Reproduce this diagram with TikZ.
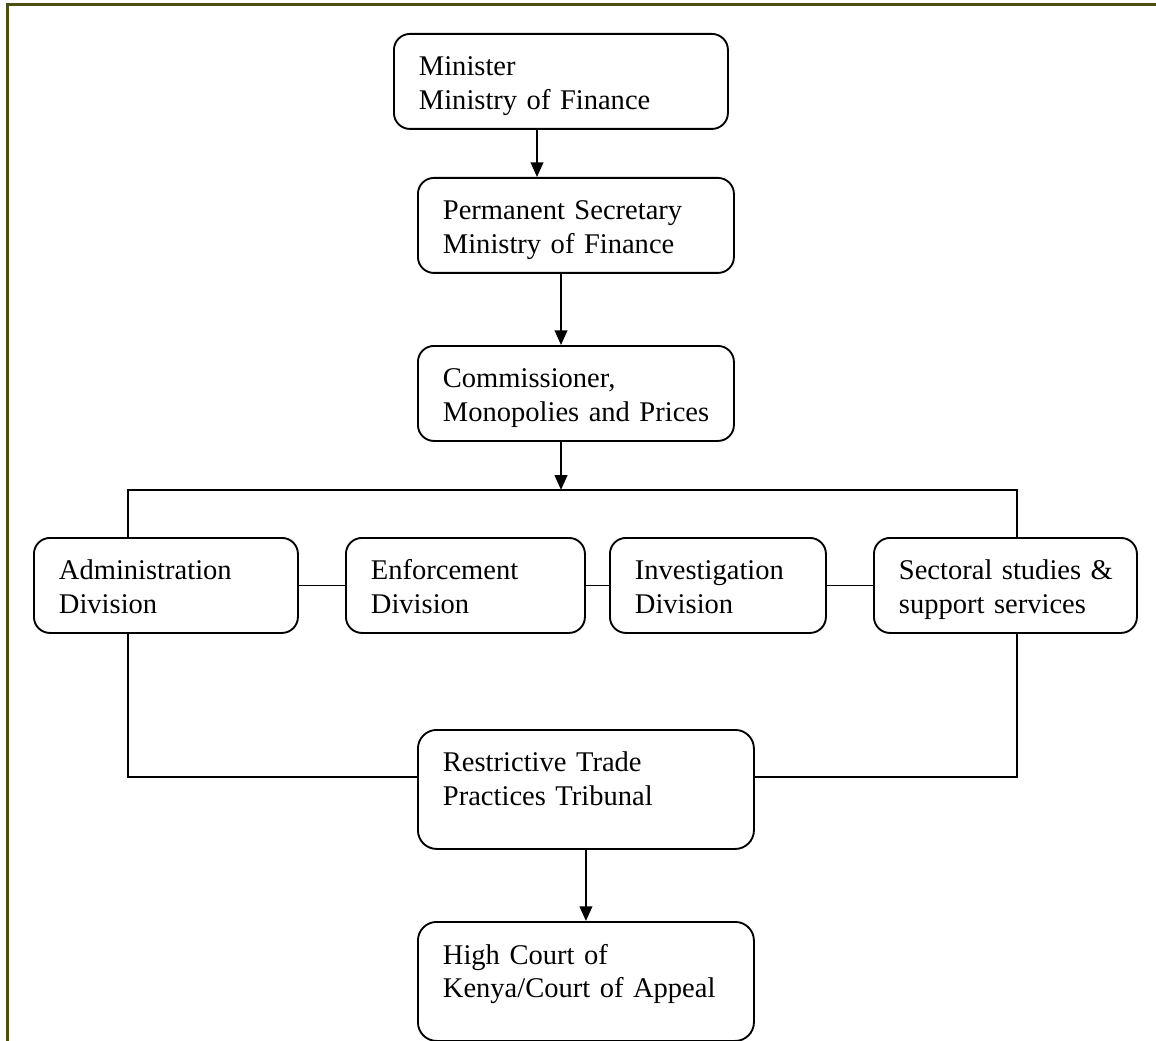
\documentclass[tikz,border=0pt]{standalone}
\usepackage{fontspec}
\setmainfont{Liberation Serif}
\usetikzlibrary{arrows.meta,calc}
\definecolor{framecol}{RGB}{78,78,18}
\hyphenpenalty=10000

\begin{document}
\begin{tikzpicture}[x=0.75pt,y=-0.75pt,
    boxbase/.style={draw, line width=1.4pt, anchor=north west, align=left,
      inner xsep=18.75pt, inner ysep=0pt,
      font=\fontsize{21.4pt}{25.1pt}\selectfont},
    orgbox/.style={boxbase, rounded corners=12pt, minimum height=71.25pt,
      execute at begin node={\rule{0pt}{21.75pt}},
      execute at end node={\rule[-4.9pt]{0pt}{4.9pt}}},
    tallbox/.style={boxbase, rounded corners=14pt, minimum height=89.25pt,
      execute at begin node={\rule{0pt}{15pt}},
      execute at end node={\rule[-16.1pt]{0pt}{16.1pt}}},
    link/.style={line width=1.4pt},
    arr/.style={link, -{Triangle[length=11pt,width=9.5pt]}}]
    \useasboundingbox (0,0) rectangle (1156,1041);

    % Page frame (top and left only)
    \draw[line width=2.25pt, framecol] (7,1041) -- (7,5) -- (1156,5);%

    % Chain of command
    \node[orgbox, text width=213pt] (minister) at (393,33) {Minister\\Ministry of~Finance};%
    \node[orgbox, text width=199.5pt] (secretary) at (417,177) {Permanent~Secretary\\Ministry of~Finance};%
    \node[orgbox, text width=199.5pt] (commissioner) at (417,345) {Commissioner,\\Monopolies~and~Prices};%

    % Divisions
    \node[orgbox, text width=160.5pt] (admin) at (33,537) {Administration\\Division};%
    \node[orgbox, text width=141.75pt] (enforce) at (345,537) {Enforcement\\Division};%
    \node[orgbox, text width=124.5pt] (investig) at (609,537) {Investigation\\Division};%
    \node[orgbox, text width=159.75pt] (sectoral) at (873,537) {\mbox{Sectoral studies \&}\\\mbox{support services}};%

    % Tribunal and court
    \node[tallbox, text width=214.5pt] (tribunal) at (417,729) {Restrictive Trade\\Practices Tribunal};%
    \node[tallbox, text width=214.5pt] (court) at (417,921) {High Court of\\Kenya/Court of~Appeal};%

    % Arrows down the chain
    \draw[arr] ($(minister.south west)+(144,0)$) -- ($(secretary.north west)+(120,0)$);%
    \draw[arr] ($(secretary.south west)+(144,0)$) -- ($(commissioner.north west)+(144,0)$);%
    \coordinate (junction) at ($(commissioner.south west)+(144,48)$);
    \draw[arr] ($(commissioner.south west)+(144,0)$) -- (junction);%

    % Bus over the divisions
    \draw[link] ($(admin.north west)+(95,0)$) |- (junction) -| ($(sectoral.north west)+(144,0)$);%

    % Links between divisions
    \draw[link] (admin) -- (enforce);%
    \draw[link] (enforce) -- (investig);%
    \draw[link] (investig) -- (sectoral);%

    % Lines into the tribunal
    \draw[link] ($(admin.south west)+(95,0)$) |- ($(tribunal.north west)+(0,48)$);%
    \draw[link] ($(sectoral.south west)+(144,0)$) |- ($(tribunal.north east)+(0,48)$);%

    % Appeal
    \draw[arr] (tribunal) -- (court);%
\end{tikzpicture}
\end{document}
